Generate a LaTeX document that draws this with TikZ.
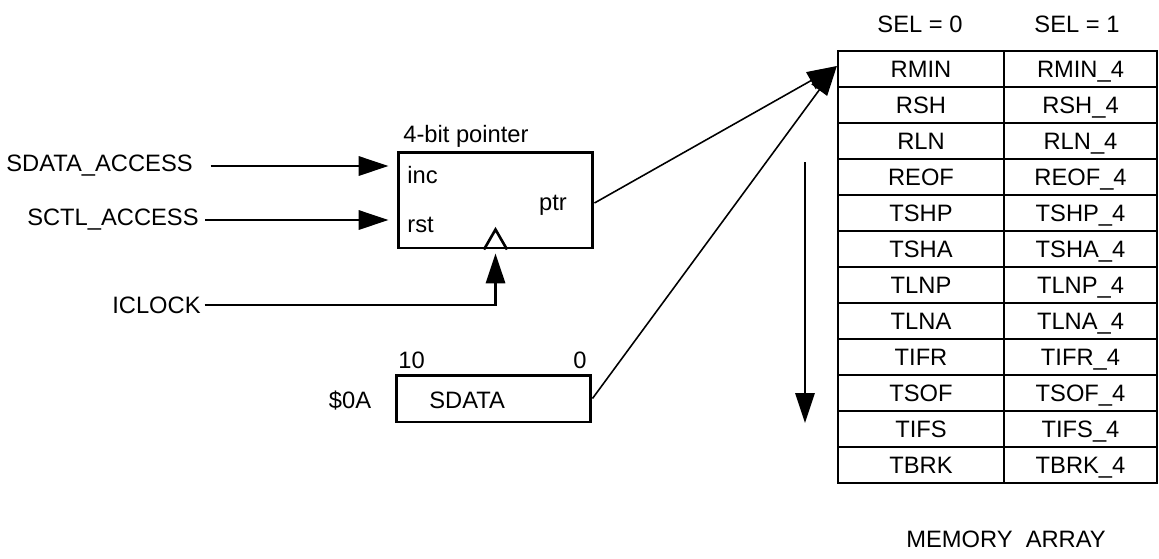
\documentclass[tikz,border=0pt]{standalone}
\usepackage{fontspec}
\setmainfont{Liberation Sans}
\usepackage{tikz}
\usetikzlibrary{positioning, arrows.meta}

\begin{document}
\begin{tikzpicture}[x=0.02cm, y=-0.02cm,
  lbl/.style={font=\fontsize{13.5}{16}\selectfont, inner sep=0pt},
  regbox/.style={draw, line width=1.7pt, minimum width=3.9cm, inner sep=0pt},
  cell/.style={draw, line width=1.3pt, minimum height=0.72cm, inner sep=0pt,
               text height=9.7pt, text depth=0pt, font=\fontsize{13.5}{16}\selectfont},
  sig/.style={-{Triangle[length=17pt, width=11pt]}, line width=1.2pt},
  link/.style={-{Triangle[length=17pt, width=11pt]}, line width=0.9pt}]
  \useasboundingbox (0,0) rectangle (1159,558);
  % Pointer register
  \node[regbox, minimum height=1.92cm] (ptrbox) at (495.5,200) {};
  \node[lbl, anchor=base west] (ptrname) at (403,142) {4-bit pointer};
  \node[lbl, anchor=base west] (inc) at (407,183) {inc};
  \node[lbl, anchor=base west] (rst) at (407,232) {rst};
  \node[lbl, anchor=base] (ptr) at (553,210) {ptr};
  \draw[line width=1.5pt] ([xshift=-0.23cm]ptrbox.south) -- ++(11.5,-20) -- ++(11.5,20);
  % Inputs
  \node[lbl, anchor=east] (sdacc) at (193,166) {SDATA\_ACCESS};
  \node[lbl, anchor=east] (scacc) at (199,220) {SCTL\_ACCESS};
  \node[lbl, anchor=east] (iclock) at (201,305) {ICLOCK};
  \draw[sig] ([xshift=10pt]sdacc.east) -- ([xshift=-0.16cm]sdacc.east -| ptrbox.west);
  \draw[sig] ([xshift=3.5pt]scacc.east) -- ([xshift=-0.16cm]scacc.east -| ptrbox.west);
  \draw[sig] ([xshift=2pt]iclock.east) -| ([yshift=-0.08cm]ptrbox.south);
  % Data register
  \node[regbox, minimum height=0.94cm] (sdbox) at (493.5,398.5) {};
  \node[lbl, anchor=base west] (sdname) at (429,408) {SDATA};
  \node[lbl, anchor=base] (sdaddr) at (350,408) {\$0A};
  \node[lbl, anchor=base west] (msb) at (398,368) {10};
  \node[lbl, anchor=base] (lsb) at (580,368) {0};
  % Memory array
  \foreach \a/\b [count=\i] in {RMIN/RMIN\_4, RSH/RSH\_4, RLN/RLN\_4, REOF/REOF\_4,
      TSHP/TSHP\_4, TSHA/TSHA\_4, TLNP/TLNP\_4, TLNA/TLNA\_4, TIFR/TIFR\_4,
      TSOF/TSOF\_4, TIFS/TIFS\_4, TBRK/TBRK\_4} {
    \node[cell, minimum width=3.32cm] (a\i) at (921,33+36*\i) {\a};
    \node[cell, minimum width=3.06cm] (b\i) at (1080.5,33+36*\i) {\b};
  }
  \node[lbl, anchor=base] (sel0) at (920,32) {SEL = 0};
  \node[lbl, anchor=base] (sel1) at (1077,32) {SEL = 1};
  \node[lbl, anchor=base] (memname) at (1006,547) {MEMORY\ \ ARRAY};
  % Pointer into the array
  \draw[link] ([yshift=-0.06cm]ptrbox.east) -- ([yshift=0.06cm]a1.west);
  \draw[link] (sdbox.east) -- ([yshift=0.06cm]a1.west);
  \coordinate (scantop) at (805,162);
  \coordinate (scanbot) at (805,423);
  \draw[sig, line width=1pt] (scantop) -- (scanbot);
\end{tikzpicture}
\end{document}
